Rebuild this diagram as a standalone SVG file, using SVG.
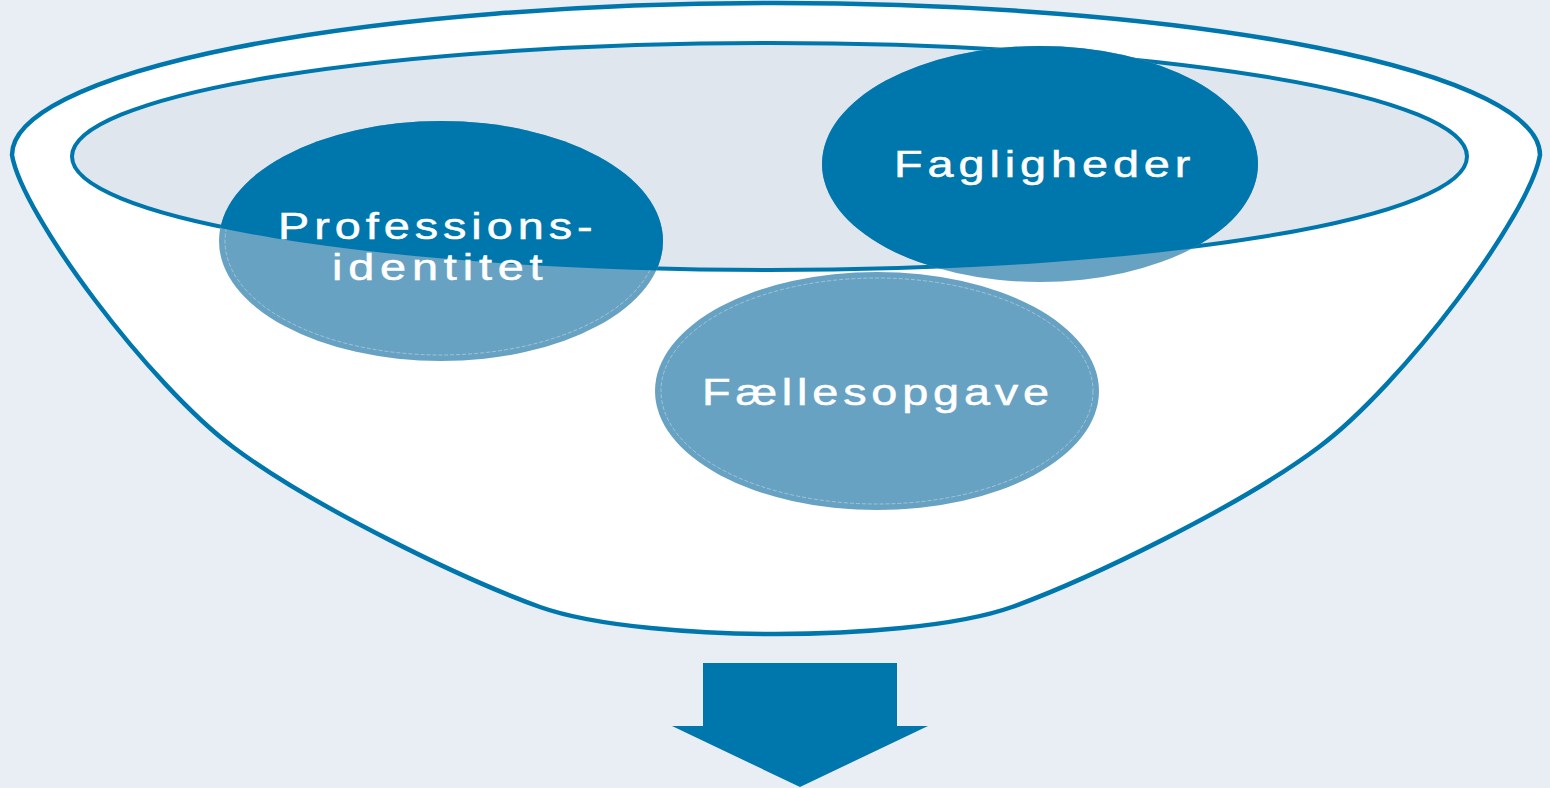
<svg xmlns="http://www.w3.org/2000/svg" width="1550" height="788" viewBox="0 0 1550 788">
  <style>
    .lbl { font-family: "Liberation Sans", Arial, sans-serif; font-size: 36px; fill: #ffffff; stroke: #ffffff; stroke-width: 0.5; }
    .light { fill: #68a2c3; }
    .dark { fill: #0077ac; }
    .inner { fill: none; stroke: #ffffff; stroke-opacity: 0.35; stroke-width: 1; stroke-dasharray: 4 2; }
  </style>
  <defs>
    <clipPath id="rimClip">
      <path d="M 0,156.5 L 70,156.5 A 699.5 115.5 0 0 0 1469,156.5 L 1550,156.5 L 1550,0 L 0,0 Z"/>
    </clipPath>
  </defs>
  <rect x="0" y="0" width="1550" height="788" fill="#e9eef5"/>

  <g id="funnel">
    <path d="M 12,155 A 764 152 0 0 1 1540,155 C 1530,215 1402,385 1319,447 C 1239,507 1087,580 1012,607 C 956,627 852,634 776,634 C 700,634 596,627 540,607 C 465,580 313,507 233,447 C 150,385 22,215 12,155 Z" fill="#ffffff" stroke="#0077ac" stroke-width="4.5"/>
  </g>

  <g id="rim">
    <ellipse cx="769.5" cy="156.5" rx="697.5" ry="113.5" fill="#dfe6ee" stroke="#0077ac" stroke-width="4"/>
  </g>

  <g id="node-professionsidentitet">
    <ellipse class="light" cx="441" cy="241" rx="222" ry="120"/>
    <ellipse class="inner" cx="441" cy="241" rx="216" ry="114"/>
    <ellipse class="dark" cx="441" cy="241" rx="222" ry="120" clip-path="url(#rimClip)"/>
  </g>

  <g id="node-fagligheder">
    <ellipse class="light" cx="1040" cy="164" rx="218" ry="118"/>
    <ellipse class="dark" cx="1040" cy="164" rx="218" ry="118" clip-path="url(#rimClip)"/>
  </g>

  <g id="node-faellesopgave">
    <ellipse class="light" cx="877" cy="391" rx="222" ry="119"/>
    <ellipse class="inner" cx="877" cy="391" rx="216" ry="113"/>
  </g>

  <g id="labels">
    <text class="lbl" transform="translate(278,239) scale(1.3,1)" x="0" y="0" textLength="242" lengthAdjust="spacing">Professions-</text>
    <text class="lbl" transform="translate(332,280) scale(1.3,1)" x="0" y="0" textLength="162" lengthAdjust="spacing">identitet</text>
    <text class="lbl" transform="translate(894,177) scale(1.3,1)" x="0" y="0" textLength="228" lengthAdjust="spacing">Fagligheder</text>
    <text class="lbl" transform="translate(702,405) scale(1.3,1)" x="0" y="0" textLength="267" lengthAdjust="spacing">Fællesopgave</text>
  </g>

  <g id="connectors">
    <polygon id="arrow" points="703,663 897,663 897,726 928,726 800,787 672,726 703,726" fill="#0077ac"/>
  </g>
</svg>
